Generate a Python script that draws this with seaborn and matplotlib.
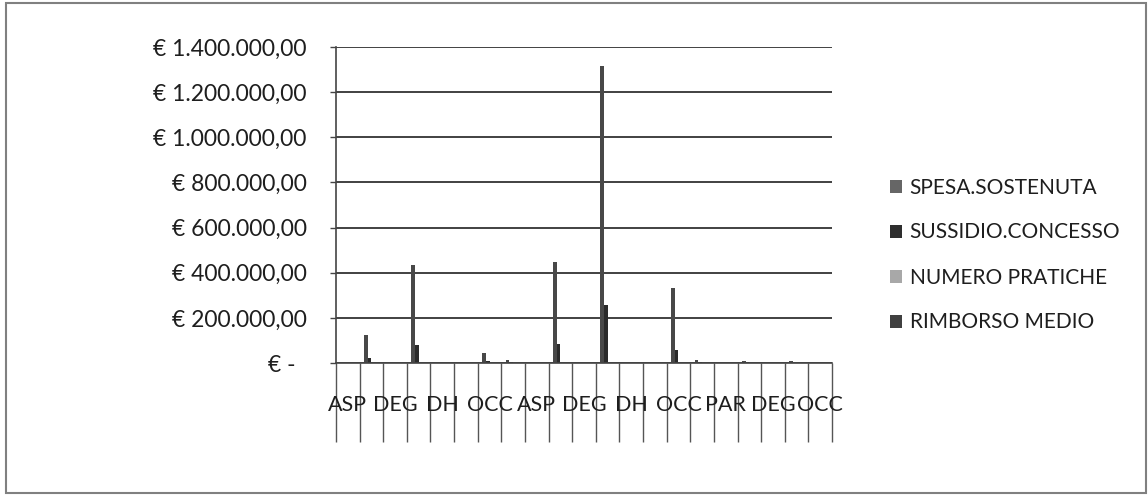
import matplotlib
matplotlib.use("Agg")
import matplotlib.pyplot as plt
import numpy as np
import pandas as pd
import seaborn as sns
from matplotlib.patches import Rectangle

# slot di categoria (21), etichette visibili solo ogni due slot
slots = list(range(21))
tick_labels = ["ASP", "DEG", "DH", "OCC", "ASP", "DEG", "DH", "OCC", "PAR", "DEG", "OCC"]

serie = ["SPESA.SOSTENUTA", "SUSSIDIO.CONCESSO", "NUMERO PRATICHE", "RIMBORSO MEDIO"]

spesa_sostenuta = [0, 125000, 3000, 432000, 0, 0, 44000, 15000, 0, 449000, 3000,
                   1318000, 0, 0, 331000, 12000, 3000, 10000, 0, 10000, 0]
sussidio_concesso = [0, 22000, 1000, 81000, 0, 0, 8000, 3000, 0, 84000, 1000,
                     258000, 0, 0, 56000, 3000, 1000, 3000, 0, 2000, 0]
numero_pratiche = [0, 40, 2, 120, 0, 0, 15, 6, 0, 130, 2,
                   300, 0, 0, 90, 5, 2, 4, 0, 4, 0]
rimborso_medio = [0, 550, 500, 680, 0, 0, 530, 500, 0, 650, 500,
                  860, 0, 0, 620, 600, 500, 750, 0, 500, 0]

colori = {
    "SPESA.SOSTENUTA": "#484848",
    "SUSSIDIO.CONCESSO": "#2a2a2a",
    "NUMERO PRATICHE": "#a8a8a8",
    "RIMBORSO MEDIO": "#3c3c3c",
}

df = pd.DataFrame({
    "slot": slots * 4,
    "serie": np.repeat(serie, len(slots)),
    "valore": spesa_sostenuta + sussidio_concesso + numero_pratiche + rimborso_medio,
})

sns.set_style("white")
plt.rcParams["font.family"] = ["Lato", "DejaVu Sans"]
testo = "#1e1e1e"

fig = plt.figure(figsize=(11.48, 4.95), dpi=100)
ax = fig.add_axes([336 / 1148, 1 - 363 / 495, (832 - 336) / 1148, (363 - 47) / 495])

sns.barplot(data=df, x="slot", y="valore", hue="serie", order=slots, hue_order=serie,
            palette=colori, width=0.62, saturation=1, dodge=True, ax=ax, legend=False,
            linewidth=0, edgecolor="none")

ax.set_xlim(-0.5, 20.5)
ax.set_ylim(0, 1400000)
ax.set_xlabel("")
ax.set_ylabel("")


def euro(v):
    if v == 0:
        return "€ -  "
    s = f"{v:,.2f}".replace(",", "X").replace(".", ",").replace("X", ".")
    return f"€ {s}"


yt = np.arange(0, 1400001, 200000)
ax.set_yticks(yt)
ax.set_yticklabels([euro(v) for v in yt], fontsize=16.5, color=testo)
ax.yaxis.grid(True, color="#333333", linewidth=1.3)
ax.set_axisbelow(True)
ax.tick_params(axis="y", which="major", left=True, length=4.5, width=1, color="#444",
               pad=16.5)

# tacche lunghe tra le categorie, etichette al centro degli slot pari
ax.set_xticks(np.arange(-0.5, 21, 1))
ax.set_xticklabels([])
ax.tick_params(axis="x", which="major", bottom=True, length=57, width=1, color="#555")
ax.set_xticks(np.arange(0, 21, 2), minor=True)
ax.set_xticklabels(tick_labels, minor=True, fontsize=15.5, color=testo)
ax.tick_params(axis="x", which="minor", bottom=True, length=0, pad=23)

for side in ["top", "right"]:
    ax.spines[side].set_visible(False)
for side in ["left", "bottom"]:
    ax.spines[side].set_color("#444")
    ax.spines[side].set_linewidth(1.2)

handles = [Rectangle((0, 0), 1, 1, facecolor=c, edgecolor="none")
           for c in ["#666666", "#2e2e2e", "#a8a8a8", "#404040"]]
fig.legend(handles, serie, loc="center left", bbox_to_anchor=(871 / 1148, 1 - 255 / 495),
           frameon=False, fontsize=15, handlelength=0.6, handleheight=0.6,
           handletextpad=0.35, labelspacing=1.2, labelcolor=testo)

fig.add_artist(Rectangle((6 / 1148, 2 / 495), 1140 / 1148, 490 / 495,
                         transform=fig.transFigure, fill=False, edgecolor="#808080",
                         linewidth=1.5))

fig.savefig("out.png", dpi=100, facecolor="white")
